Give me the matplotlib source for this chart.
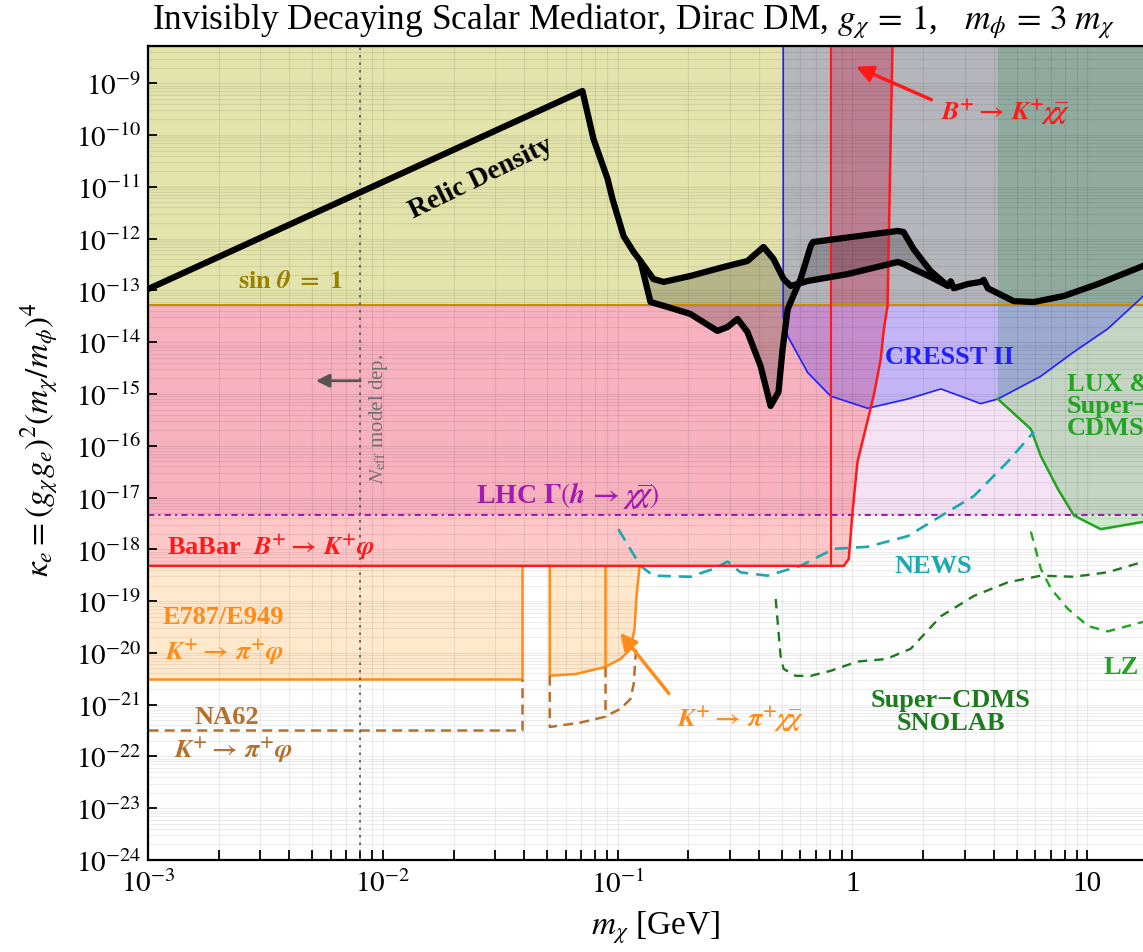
import numpy as np
import matplotlib
matplotlib.use("Agg")
import matplotlib.pyplot as plt
from matplotlib.ticker import FixedLocator, LogLocator, NullFormatter

plt.rcParams["font.family"] = "serif"
plt.rcParams["font.serif"] = ["Liberation Serif", "DejaVu Serif"]
plt.rcParams["mathtext.fontset"] = "stix"

# plot range
M_MIN, M_MAX = 1e-3, 20.0
K_MIN, K_MAX = 1e-24, 5.25e-9

# horizontal limits
k_sin = 5.2e-14        # sin(theta) = 1
k_lhc = 4.7e-18        # LHC Gamma(h -> chi chibar)
k_babar = 4.8e-19      # BaBar B+ -> K+ phi
k_e787 = 3.2e-21       # E787/E949 K+ -> pi+ phi
k_na62 = 3.3e-22       # NA62 K+ -> pi+ phi

# vertical positions (GeV)
m_neff = 8.0e-3
m_e787_end = 0.0392
m_e949_start = 0.0514
m_e949_mid = 0.0879
m_bkxx = 0.807
m_cresst = 0.507
m_lux = 4.16

# BaBar right edge (B+ -> K+ chi chibar)
babar_m = [0.918, 0.964, 1.00, 1.05, 1.23, 1.32, 1.36, 1.41, 1.43, 1.48]
babar_k = [4.8e-19, 6.5e-19, 5.2e-18, 4.9e-17, 9.1e-16, 4.8e-15, 1.8e-14, 5.0e-14, 1.5e-12, 5.25e-9]

# E949 K+ -> pi+ chi chibar
e949_m = [0.0514, 0.0661, 0.0879, 0.1028, 0.1135, 0.118, 0.120, 0.124]
e949_k = [3.63e-21, 3.9e-21, 5.3e-21, 7.6e-21, 1.2e-20, 2.9e-20, 1.1e-19, 4.8e-19]

# NA62 K+ -> pi+ chi chibar (projection)
na62_m = [0.0514, 0.0693, 0.0879, 0.1028, 0.1135, 0.117, 0.119, 0.120]
na62_k = [3.7e-22, 4.5e-22, 5.8e-22, 8.3e-22, 1.3e-21, 2.5e-21, 7.6e-21, 1.3e-20]

# CRESST II
cresst_m = [0.507, 0.530, 0.644, 0.807, 1.16, 1.72, 2.38, 3.52, 4.16, 6.34, 8.77, 12.2, 17.4, 20.0]
cresst_k = [3e-14, 1.3e-14, 2.6e-15, 9.1e-16, 5.3e-16, 8.0e-16, 1.25e-15, 6.5e-16, 8.0e-16,
            2.2e-15, 6.5e-15, 1.8e-14, 7.9e-14, 1.4e-13]

# LUX & Super-CDMS
lux_m = [4.16, 5.75, 6.34, 7.5, 8.77, 11.4, 17.4, 20.0]
lux_k = [8.0e-16, 2.1e-16, 6.3e-17, 1.45e-17, 4.5e-18, 2.45e-18, 3.4e-18, 3.6e-18]

# NEWS projection
news_m = [0.1007, 0.125, 0.142, 0.204, 0.256, 0.294, 0.333, 0.435, 0.601, 0.832, 1.16, 1.72,
          2.38, 3.29, 4.58, 5.92]
news_k = [2.45e-18, 4.8e-19, 3.1e-19, 2.95e-19, 4.2e-19, 5.8e-19, 3.6e-19, 3.1e-19, 4.8e-19,
          1.02e-18, 1.12e-18, 1.8e-18, 4.4e-18, 1.07e-17, 4.9e-17, 1.86e-16]

# Super-CDMS SNOLAB projection
snolab_m = [0.471, 0.494, 0.509, 0.573, 0.664, 0.807, 1.05, 1.39, 1.77, 2.38, 3.29, 4.58,
            6.34, 8.77, 12.2, 17.4, 20.0]
snolab_k = [1.1e-19, 8.7e-21, 4.9e-21, 3.6e-21, 3.6e-21, 4.5e-21, 6.8e-21, 7.6e-21, 1.2e-20,
            5.1e-20, 1.26e-19, 2.3e-19, 3.1e-19, 2.95e-19, 3.6e-19, 5.8e-19, 6.5e-19]

# LZ projection
lz_m = [5.75, 6.34, 7.0, 8.26, 10.07, 12.2, 17.4, 20.0]
lz_k = [2.2e-18, 4.2e-19, 1.74e-19, 7.1e-20, 3.3e-20, 2.6e-20, 4.0e-20, 4.3e-20]

# relic density, main branch
relic_m = [1.0e-3, 0.0708, 0.0789, 0.0906, 0.0951, 0.106, 0.117, 0.125, 0.142, 0.157, 0.204,
           0.283, 0.357, 0.418, 0.461, 0.509, 0.546, 0.644, 0.955, 1.56, 1.65, 1.82, 2.15,
           2.55, 2.62, 2.70, 3.10, 3.52, 3.62, 3.77, 4.86, 5.92, 7.94, 11.1, 20.0]
relic_k = [1.06e-13, 7.1e-10, 8.4e-11, 1.42e-11, 5.8e-12, 1.12e-12, 5.5e-13, 3.7e-13, 1.66e-13,
           1.46e-13, 1.90e-13, 2.84e-13, 3.7e-13, 6.9e-13, 4.05e-13, 1.66e-13, 1.22e-13,
           1.52e-13, 2.07e-13, 3.54e-13, 3.24e-13, 2.59e-13, 1.82e-13, 1.22e-13, 1.5e-13,
           1.1e-13, 1.33e-13, 1.46e-13, 1.6e-13, 1.1e-13, 6.2e-14, 5.97e-14, 7.8e-14,
           1.33e-13, 3.87e-13]

# relic density, second branch
relic2_m = [0.125, 0.138, 0.163, 0.204, 0.266, 0.294, 0.324, 0.357, 0.406, 0.448, 0.484, 0.504,
            0.530, 0.601, 0.664, 0.679, 1.56, 1.65, 1.82, 2.15, 2.55]
relic2_k = [3.7e-13, 5.97e-14, 4.79e-14, 3.51e-14, 1.65e-14, 1.97e-14, 2.81e-14, 1.57e-14,
            3.47e-15, 5.86e-16, 1.09e-15, 7.4e-15, 4.38e-14, 1.66e-13, 7.2e-13, 8.6e-13,
            1.41e-12, 1.34e-12, 6.3e-13, 2.37e-13, 1.22e-13]

RED = "#FF1A1A"
ORANGE = "#FF8C1A"
BROWN = "#B5702D"
PURPLE = "#A21CAF"
BLUE = "#2020FF"
TEAL = "#1BA8B0"
GREEN = "#22A322"
DKGREEN = "#1E7A1E"

fig = plt.figure(figsize=(11.43, 9.53), dpi=100)
ax = fig.add_axes([148 / 1143, 92 / 953, 1010 / 1143, 814 / 953])
ax.set_xscale("log")
ax.set_yscale("log")
ax.set_xlim(M_MIN, M_MAX)
ax.set_ylim(K_MIN, K_MAX)

# ---- shaded regions
ax.fill_between([M_MIN, M_MAX], k_lhc, K_MAX, color="#CC66CC", alpha=0.18, lw=0, zorder=1.0)
ax.fill([M_MIN] + babar_m + [M_MIN], [k_babar] + babar_k + [K_MAX],
        color="red", alpha=0.22, lw=0, zorder=1.05)
ax.fill_between([M_MIN, m_e787_end], k_e787, k_babar, color="#FF8C00", alpha=0.2, lw=0, zorder=1.05)
ax.fill(e949_m + [m_e949_start], e949_k + [k_babar], color="#FF8C00", alpha=0.2, lw=0, zorder=1.05)
ax.fill_between([M_MIN, M_MAX], k_sin, K_MAX, color="#E3E3AC", lw=0, zorder=1.2)

lb_m, lb_k = np.log10(babar_m), np.log10(babar_k)
m_at_sin = 10 ** np.interp(np.log10(k_sin), lb_k, lb_m)
above = [(m, k) for m, k in zip(babar_m, babar_k) if k > k_sin]
band_m = [m_bkxx, m_at_sin] + [p[0] for p in above] + [m_bkxx]
band_k = [k_sin, k_sin] + [p[1] for p in above] + [K_MAX]
ax.fill(band_m, band_k, color="red", alpha=0.3, lw=0, zorder=1.25)

ax.fill(lux_m + [M_MAX, m_lux], lux_k + [K_MAX, K_MAX], color="#00A000", alpha=0.2, lw=0, zorder=1.3)
ax.fill([m_cresst] + cresst_m + [M_MAX], [K_MAX] + cresst_k + [K_MAX],
        color="#0000FF", alpha=0.2, lw=0, zorder=1.35)

i0 = relic_m.index(0.125)
i1 = relic_m.index(2.55)
ax.fill(relic_m[i0:i1 + 1] + relic2_m[::-1], relic_k[i0:i1 + 1] + relic2_k[::-1],
        color="black", alpha=0.2, lw=0, zorder=1.4)

# ---- grid and axes styling
ax.xaxis.set_major_locator(FixedLocator([1e-3, 1e-2, 1e-1, 1, 10]))
ax.xaxis.set_minor_locator(LogLocator(base=10, subs=np.arange(2, 10), numticks=50))
ax.xaxis.set_minor_formatter(NullFormatter())
ax.set_xticklabels([r"$10^{-3}$", r"$10^{-2}$", r"$10^{-1}$", "1", "10"])
yt = [10.0 ** e for e in range(-24, -8)]
ax.yaxis.set_major_locator(FixedLocator(yt))
ax.yaxis.set_minor_locator(LogLocator(base=10, subs=np.arange(2, 10), numticks=300))
ax.yaxis.set_minor_formatter(NullFormatter())
ax.set_yticklabels([r"$10^{%d}$" % e for e in range(-24, -8)])
ax.grid(True, which="both", color="black", alpha=0.07, lw=0.9)
ax.tick_params(which="both", direction="in", labelsize=21, width=1.3, top=False, right=False)
ax.tick_params(axis="x", which="both", length=7.5, pad=7)
ax.tick_params(axis="y", which="major", length=6.5, pad=5)
ax.tick_params(axis="y", which="minor", length=0)
for s in ax.spines.values():
    s.set_linewidth(1.6)

# ---- lines
ax.axhline(k_sin, color="#C88A00", lw=1.4, zorder=2)
ax.plot([M_MIN, M_MAX], [k_lhc, k_lhc], color=PURPLE, lw=1.5, dashes=(3, 2, 1, 2), zorder=2)
ax.plot([M_MIN] + babar_m, [k_babar] + babar_k, color=RED, lw=1.8, zorder=2.1)
ax.plot([m_bkxx, m_bkxx], [k_babar, K_MAX], color=RED, lw=1.5, zorder=2.1)
ax.plot([m_cresst] + cresst_m, [K_MAX] + cresst_k, color=BLUE, lw=1.2, zorder=2)
ax.plot(lux_m, lux_k, color=GREEN, lw=1.8, zorder=2)

ax.plot([M_MIN, m_e787_end, m_e787_end], [k_e787, k_e787, k_babar], color=ORANGE, lw=1.8, zorder=2)
ax.plot([m_e949_start] + e949_m, [k_babar] + e949_k, color=ORANGE, lw=1.8, zorder=2)
ax.plot([m_e949_mid, m_e949_mid], [e949_k[2], k_babar], color=ORANGE, lw=1.8, zorder=2)
ax.plot([M_MIN, m_e787_end, m_e787_end], [k_na62, k_na62, k_e787], color=BROWN, lw=1.8,
        dashes=(4, 2.5), zorder=2)
ax.plot([m_e949_start] + na62_m, [e949_k[0]] + na62_k, color=BROWN, lw=1.8, dashes=(4, 2.5), zorder=2)
ax.plot([m_e949_mid, m_e949_mid], [e949_k[2], na62_k[2]], color=BROWN, lw=1.8, dashes=(4, 2.5), zorder=2)

ax.plot(news_m, news_k, color=TEAL, lw=1.9, dashes=(5, 3), zorder=2)
ax.plot(snolab_m, snolab_k, color=DKGREEN, lw=1.7, dashes=(4, 3), zorder=2)
ax.plot(lz_m, lz_k, color=GREEN, lw=1.7, dashes=(4, 3), zorder=2)

ax.axvline(m_neff, color="#555555", lw=1.2, dashes=(1.5, 3), zorder=2)

ax.plot(relic_m, relic_k, color="black", lw=4.5, solid_joinstyle="round", solid_capstyle="round", zorder=3)
ax.plot(relic2_m, relic2_k, color="black", lw=4.5, solid_joinstyle="round", solid_capstyle="round", zorder=3)

# ---- labels
fs = 19
CHICHI = r"\mathbfit{\chi}\overline{\mathbfit{\chi}}"
ax.text(0.00407, 1.52e-13, r"$\mathbf{sin}\ \mathbfit{\theta}\ \mathbf{=\ 1}$", color="#9A8200",
        fontsize=fs, ha="center", va="center", zorder=4)
ax.text(0.0262, 1.55e-11, "Relic Density", fontsize=20, fontweight="bold", rotation=26,
        ha="center", va="center", zorder=4)
ax.text(0.0012, 1.17e-18, r"BaBar  $\mathbfit{B}^{\mathbf{+}}\mathbf{\rightarrow}\,\mathbfit{K}^{\mathbf{+}}\mathbfit{\varphi}$",
        color=RED, fontsize=fs, fontweight="bold", ha="left", va="center", zorder=4)
ax.text(0.00115, 5.1e-20, "E787/E949", color=ORANGE, fontsize=fs, fontweight="bold",
        ha="left", va="center", zorder=4)
ax.text(0.00118, 1.1e-20, r"$\mathbfit{K}^{\mathbf{+}}\mathbf{\rightarrow}\,\mathbfit{\pi}^{\mathbf{+}}\mathbfit{\varphi}$",
        color=ORANGE, fontsize=fs, ha="left", va="center", zorder=4)
ax.text(0.00217, 6.0e-22, "NA62", color=BROWN, fontsize=fs, fontweight="bold",
        ha="center", va="center", zorder=4)
ax.text(0.0023, 1.4e-22, r"$\mathbfit{K}^{\mathbf{+}}\mathbf{\rightarrow}\,\mathbfit{\pi}^{\mathbf{+}}\mathbfit{\varphi}$",
        color=BROWN, fontsize=fs, ha="center", va="center", zorder=4)
ax.text(0.0611, 1.15e-17, r"LHC $\mathbf{\Gamma}(\mathbfit{h}\,\mathbf{\rightarrow}\,%s)$" % CHICHI,
        color=PURPLE, fontsize=fs + 1, fontweight="bold", ha="center", va="center", zorder=4)
ax.text(2.59, 5.2e-15, "CRESST II", color=BLUE, fontsize=fs, fontweight="bold",
        ha="center", va="center", zorder=4)
ax.text(2.20, 4.8e-19, "NEWS", color=TEAL, fontsize=fs, fontweight="bold",
        ha="center", va="center", zorder=4)
ax.text(8.19, 5.9e-16, "LUX &\nSuper\u2212\nCDMS", color=GREEN, fontsize=fs, fontweight="bold",
        ha="left", va="center", linespacing=0.95, zorder=4)
ax.text(2.62, 7.6e-22, "Super\u2212CDMS\nSNOLAB", color=DKGREEN, fontsize=fs, fontweight="bold",
        ha="center", va="center", linespacing=1.0, zorder=4)
ax.text(13.9, 5.4e-21, "LZ", color=GREEN, fontsize=fs, fontweight="bold",
        ha="center", va="center", zorder=4)
ax.text(4.5, 2.8e-10, r"$\mathbfit{B}^{\mathbf{+}}\mathbf{\rightarrow}\,\mathbfit{K}^{\mathbf{+}}%s$" % CHICHI,
        color=RED, fontsize=fs, ha="center", va="center", zorder=4)
ax.text(0.333, 5.4e-22, r"$\mathbfit{K}^{\mathbf{+}}\mathbf{\rightarrow}\,\mathbfit{\pi}^{\mathbf{+}}%s$" % CHICHI,
        color=ORANGE, fontsize=fs, ha="center", va="center", zorder=4)
ax.text(0.00955, 3.5e-16, r"$N_{\rm eff}$ model dep.", color="#707070", fontsize=15, rotation=90,
        ha="center", va="center", zorder=4)

ax.annotate("", xy=(1.01, 2.2e-9), xytext=(2.22, 4.6e-10),
            arrowprops=dict(arrowstyle="-|>", color=RED, lw=2.5, mutation_scale=25), zorder=4)
ax.annotate("", xy=(0.1007, 2.7e-20), xytext=(0.168, 1.5e-21),
            arrowprops=dict(arrowstyle="-|>", color=ORANGE, lw=2.5, mutation_scale=25), zorder=4)
ax.annotate("", xy=(0.00505, 1.8e-15), xytext=(0.00824, 1.8e-15),
            arrowprops=dict(arrowstyle="-|>", color="#555555", lw=2.0, mutation_scale=20), zorder=4)

fig.text(152 / 1143, 1 - 29 / 953,
         r"Invisibly Decaying Scalar Mediator, Dirac DM, $g_\chi\,=\,1$,   $m_\phi\,=\,3\;m_\chi$",
         fontsize=25.5, ha="left", va="baseline")
fig.text(40 / 1143, 1 - 440 / 953, r"$\kappa_e = (g_\chi g_e)^2(m_\chi/m_\phi)^4$",
         fontsize=24, rotation=90, ha="center", va="center")
fig.text(656 / 1143, 1 - 928 / 953, r"$m_\chi$ [GeV]", fontsize=24, ha="center", va="center")

fig.savefig("out.png", dpi=100)
